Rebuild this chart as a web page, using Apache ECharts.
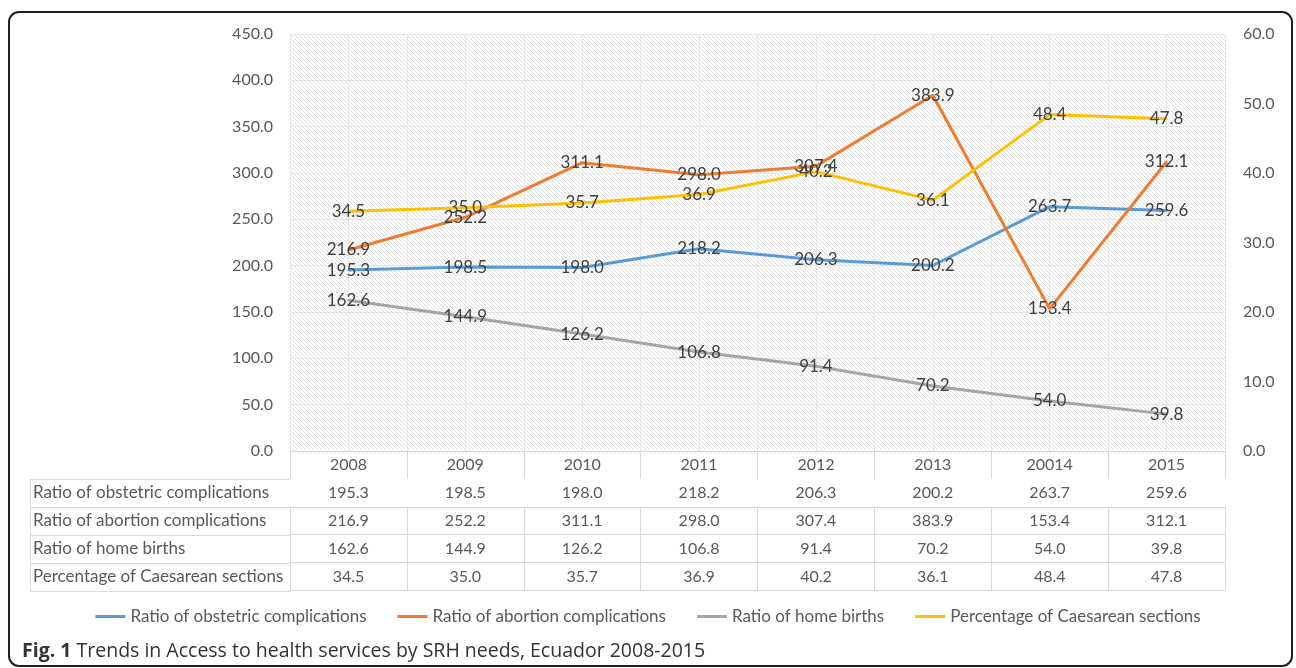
<!DOCTYPE html>
<html><head><meta charset="utf-8">
<script src="https://cdn.jsdelivr.net/npm/echarts@6/dist/echarts.min.js"></script>
<style>html,body{margin:0;padding:0;background:#fff;}#c{width:1296px;height:668px;}</style>
</head><body><div id="c"></div>
<script>
const years = ['2008','2009','2010','2011','2012','2013','20014','2015'];
const seriesNames = ['Ratio of obstetric complications','Ratio of abortion complications','Ratio of home births','Percentage of Caesarean sections'];
const obstetric = [195.3,198.5,198.0,218.2,206.3,200.2,263.7,259.6];
const abortion = [216.9,252.2,311.1,298.0,307.4,383.9,153.4,312.1];
const homeBirths = [162.6,144.9,126.2,106.8,91.4,70.2,54.0,39.8];
const caesarean = [34.5,35.0,35.7,36.9,40.2,36.1,48.4,47.8];
const leftTicks = {min:0,max:450,interval:50};
const rightTicks = {min:0,max:60,interval:10};
const colors = ['#5B9BD5','#ED7D31','#A5A5A5','#FFC000'];
const caption = 'Trends in Access to health services by SRH needs, Ecuador 2008-2015';

const GL = 290, GR = 1225, GT = 34, GB = 451, ROW = 27.9;
const FONT = 'Lato';
const GRIDC = '#d9d9d9';

// hatch pattern
const pc = document.createElement('canvas');
pc.width = 4; pc.height = 4;
const pctx = pc.getContext('2d');
pctx.fillStyle = '#ffffff'; pctx.fillRect(0,0,4,4);
pctx.fillStyle = '#e0e0e0';
for (let i=0;i<4;i++){ pctx.fillRect(i,i,1,1); }

const rows = [obstetric, abortion, homeBirths, caesarean];
const xAxes = [];
xAxes.push({
  type:'category', data: years, position:'bottom', gridIndex:0,
  axisLine:{lineStyle:{color:GRIDC,width:1}},
  axisTick:{show:true,length:ROW,lineStyle:{color:GRIDC}},
  axisLabel:{color:'#595959',fontSize:16,fontFamily:FONT,margin:6},
  splitLine:{show:false}
});
rows.forEach((r,k)=>{
  xAxes.push({
    type:'category', data: r.map(v=>v.toFixed(1)), position:'bottom', offset: ROW*(k+1), gridIndex:0,
    axisLine:{lineStyle:{color:GRIDC,width:1}},
    axisTick:{show:true,length:ROW,lineStyle:{color:GRIDC}},
    axisLabel:{color:'#595959',fontSize:16,fontFamily:FONT,margin:6},
    splitLine:{show:false}
  });
});
xAxes.push({
  type:'category', data: years, position:'bottom', offset: ROW*5, gridIndex:0,
  axisLine:{lineStyle:{color:GRIDC,width:1}},
  axisTick:{show:false}, axisLabel:{show:false}, splitLine:{show:false}
});
// half-category vertical gridlines
const halves = [];
years.forEach(y=>{halves.push(y+'a');halves.push(y+'b');});
xAxes.push({
  type:'category', data: halves, position:'top', gridIndex:0,
  axisLine:{show:false}, axisTick:{show:false}, axisLabel:{show:false},
  splitLine:{show:true,lineStyle:{color:'#e6e6e6',width:1}}
});

const graphics = [];
graphics.push({type:'rect', shape:{x:9,y:12,width:1283,height:654,r:10}, style:{fill:'none',stroke:'#1f1f1f',lineWidth:2}, z:100});
const tableLeft = 30;
for (let k=1;k<=5;k++){
  const y = Math.round(GB + ROW*k) + 0.5;
  graphics.push({type:'line', shape:{x1:tableLeft,y1:y,x2:GL,y2:y}, style:{stroke:GRIDC,lineWidth:1}});
}
graphics.push({type:'line', shape:{x1:tableLeft+0.5,y1:Math.round(GB+ROW)+0.5,x2:tableLeft+0.5,y2:Math.round(GB+ROW*5)+0.5}, style:{stroke:GRIDC,lineWidth:1}});
seriesNames.forEach((n,k)=>{
  graphics.push({type:'text', x:tableLeft+3, y:GB+ROW*(k+1)+ROW/2, style:{text:n, fill:'#595959', font:'17px '+FONT, verticalAlign:'middle'}});
});

function mkSeries(i, data, yIdx){
  return {name:seriesNames[i], type:'line', data:data, xAxisIndex:0, yAxisIndex:yIdx,
    symbol:'circle', symbolSize:2, showSymbol:true, itemStyle:{color:colors[i]},
    lineStyle:{width:3, color:colors[i]},
    label:{show:true, position:'inside', offset:[0,1], color:'#404040', fontSize:17, fontFamily:FONT,
      formatter:p=>Number(p.value).toFixed(1)},
    labelLayout:{hideOverlap:false},
    z:3};
}

const option = {
  animation:false,
  backgroundColor:'#ffffff',
  color: colors,
  title:{
    text:'{b|Fig. 1} '+caption,
    left:17, top:636,
    textStyle:{fontFamily:'Open Sans',fontSize:19.5,color:'#333333',fontWeight:'normal',
      rich:{b:{fontFamily:'Open Sans',fontSize:19.5,fontWeight:'bold',color:'#333333'}}}
  },
  legend:{
    data: seriesNames, top:603, left:'center',
    icon:'rect', itemWidth:30, itemHeight:3, itemGap:31,
    textStyle:{color:'#595959',fontSize:17,fontFamily:FONT}
  },
  grid:{left:GL, right:1296-GR, top:GT, bottom:668-GB, show:true, borderWidth:0,
    backgroundColor:{image:pc, repeat:'repeat'}},
  xAxis: xAxes,
  yAxis:[
    {type:'value', min:leftTicks.min, max:leftTicks.max, interval:leftTicks.interval, position:'left',
     axisLine:{show:false}, axisTick:{show:false},
     axisLabel:{color:'#595959',fontSize:16,fontFamily:FONT,margin:17,formatter:v=>v.toFixed(1)},
     splitLine:{show:true,lineStyle:{color:'#e6e6e6',width:1}}},
    {type:'value', min:rightTicks.min, max:rightTicks.max, interval:rightTicks.interval, position:'right',
     axisLine:{show:false}, axisTick:{show:false},
     axisLabel:{color:'#595959',fontSize:16,fontFamily:FONT,margin:18,formatter:v=>v.toFixed(1)},
     splitLine:{show:false}}
  ],
  series:[
    mkSeries(0, obstetric, 0),
    mkSeries(1, abortion, 0),
    mkSeries(2, homeBirths, 0),
    mkSeries(3, caesarean, 1)
  ],
  graphic: graphics
};
const chart = echarts.init(document.getElementById('c'), null, {renderer:'canvas'});
chart.setOption(option);
</script></body></html>
